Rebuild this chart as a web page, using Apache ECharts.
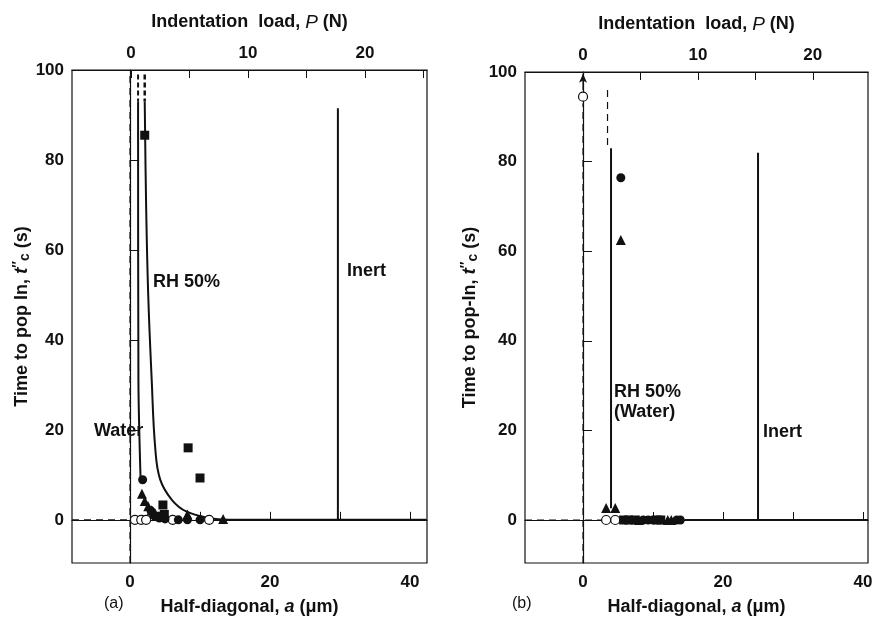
<!DOCTYPE html>
<html>
<head>
<meta charset="utf-8">
<script src="https://cdn.jsdelivr.net/npm/echarts@6/dist/echarts.min.js"></script>
<style>
  html, body { margin: 0; padding: 0; background: #fff; }
  #chart { width: 874px; height: 619px; }
</style>
</head>
<body>
<div id="chart"></div>
<script>
// ---- data (a = half-diagonal in um, t = time to pop-in in s) ----
// panel (a)
var aSquares = [[2.1, 85.5], [8.3, 16], [10, 9.3], [4.7, 3.3], [4.9, 1.2], [3.8, 0.8]];
var aCircles = [[1.8, 8.9], [3.0, 2.0], [3.4, 1.0], [4.2, 0.4], [5.0, 0.2], [6.9, 0], [8.2, 0], [10.0, 0]];
var aTriangles = [[1.7, 5.8], [2.1, 4.2], [2.6, 3.0], [3.1, 2.1], [3.6, 1.4], [8.2, 1.2], [13.3, 0.2]];
var aOpen = [[0.7, 0], [1.6, 0], [2.3, 0], [6.1, 0], [11.3, 0]];
var aWaterTop = [[1.15, 99], [1.15, 93]];
var aWaterCurve = [[1.15, 93], [1.2, 31], [1.5, 9.5]];
var aRhTop = [[2.1, 99], [2.1, 93]];
var aRhCurve = [[2.1, 93], [2.3, 70], [2.6, 50], [3.1, 31], [3.6, 16], [4.3, 9], [6.0, 4.4], [8.1, 1.8], [11.4, 0.4], [14, 0]];
var aBase = [[14, 0], [42.4, 0]];
var aInert = [[29.7, 0], [29.7, 91.5]];

// panel (b)
var bSquares = [[5.8, 0], [6.5, 0], [7.4, 0], [10.6, 0], [11.1, 0]];
var bCircles = [[5.4, 76.4], [8.6, 0], [9.3, 0], [10.0, 0], [13.4, 0], [13.9, 0]];
var bTriangles = [[5.4, 62.5], [3.3, 2.7], [4.6, 2.7], [8.0, 0], [12.1, 0], [12.6, 0]];
var bOpen = [[0, 94.5], [3.3, 0], [4.6, 0]];
var bRhTop = [[3.5, 96], [3.5, 83]];
var bRhLine = [[4.0, 83], [4.0, 2.6]];
var bBase = [[14.5, 0], [40.7, 0]];
var bInert = [[25, 0], [25, 82]];
var bArrow = [[0, 96], [0, 99.6]];

// axis ticks
var aTicks = [0, 10, 20, 30, 40];
var aLabels = [0, 20, 40];
var pTicks = [0, 5, 10, 15, 20, 25];
var pLabels = [0, 10, 20];
var tTicks = [0, 20, 40, 60, 80, 100];

var font = 'Liberation Sans, Arial, sans-serif';
var black = '#111';
var nameSize = 18;
var tickSize = 17;

function bottomAxis(grid, max) {
  return {
    type: 'value', gridIndex: grid, position: 'bottom', min: -8.29, max: max,
    name: '{n|Half-diagonal, }{i|a}{n| (\u03bcm)}', nameLocation: 'middle', nameGap: 35,
    nameTextStyle: { rich: { n: { fontFamily: font, fontWeight: 'bold', fontSize: nameSize, color: black },
                             i: { fontFamily: font, fontStyle: 'italic', fontWeight: 'bold', fontSize: nameSize, color: black } } },
    axisLine: { lineStyle: { color: black, width: 1.2 } },
    axisTick: { inside: true, length: 8, customValues: aTicks, lineStyle: { color: black } },
    axisLabel: { customValues: aLabels, margin: 11, fontFamily: font, fontWeight: 'bold', fontSize: tickSize, color: black },
    splitLine: { show: false }
  };
}
function topAxis(grid, max) {
  return {
    type: 'value', gridIndex: grid, position: 'top', min: -5.04, max: max,
    name: '{n|Indentation  load, }{i|P}{n| (N)}', nameLocation: 'middle', nameGap: 38,
    nameTextStyle: { rich: { n: { fontFamily: font, fontWeight: 'bold', fontSize: nameSize, color: black },
                             i: { fontFamily: font, fontStyle: 'italic', fontSize: nameSize + 1, color: black } } },
    axisLine: { lineStyle: { color: black, width: 1.2 } },
    axisTick: { inside: true, length: 8, customValues: pTicks, lineStyle: { color: black } },
    axisLabel: { customValues: pLabels, margin: 8, fontFamily: font, fontWeight: 'bold', fontSize: tickSize, color: black },
    splitLine: { show: false }
  };
}
function leftAxis(grid, title, gap) {
  return {
    type: 'value', gridIndex: grid, min: -9.6, max: 100,
    name: '{n|' + title + ' }{i|t}{s|\u2033}{c|c}{n| (s)}', nameLocation: 'middle', nameGap: gap,
    nameTextStyle: { rich: { n: { fontFamily: font, fontWeight: 'bold', fontSize: nameSize, color: black },
                             i: { fontFamily: font, fontStyle: 'italic', fontWeight: 'bold', fontSize: nameSize + 1, color: black },
                             s: { fontFamily: font, fontWeight: 'bold', fontSize: 14, color: black, padding: [0, 0, 8, 0] },
                             c: { fontFamily: font, fontWeight: 'bold', fontSize: 14, color: black, padding: [6, 0, 0, 0] } } },
    axisLine: { lineStyle: { color: black, width: 1.2 } },
    axisTick: { inside: true, length: 9, customValues: tTicks, lineStyle: { color: black } },
    axisLabel: { customValues: tTicks, margin: 8, fontFamily: font, fontWeight: 'bold', fontSize: tickSize, color: black },
    splitLine: { show: false }
  };
}

function pts(name, x, y, data, symbol, open) {
  return {
    name: name, type: 'scatter', xAxisIndex: x, yAxisIndex: y, data: data,
    symbol: symbol, symbolSize: symbol === 'triangle' ? 10 : 9,
    itemStyle: open ? { color: '#fff', borderColor: black, borderWidth: 1.2, opacity: 1 } : { color: black, opacity: 1 },
    z: 5
  };
}
function line(x, y, data, opts) {
  var s = {
    type: 'line', xAxisIndex: x, yAxisIndex: y, data: data, symbol: 'none',
    lineStyle: { color: black, width: 2 }, z: 3, animation: false
  };
  return Object.assign(s, opts || {});
}
var dashed = { color: black, width: 1.2, type: [7, 5] };
var zeroA = [[-8.29, 0], [0.4, 0]];
var zeroB = [[-8.29, 0], [3.0, 0]];
var vertA = [[0, -9.6], [0, 100]];
var vertB = [[0, -9.6], [0, 93]];

var txt = 'bold 18px ' + font;
var chart = echarts.init(document.getElementById('chart'));
var option = {
  backgroundColor: '#fff',
  animation: false,
  grid: [
    { left: 72, top: 70, width: 355, height: 493, outerBoundsMode: 'none', containLabel: false,
      show: true, borderColor: black, borderWidth: 1.2 },
    { left: 525, top: 72, width: 343, height: 491, outerBoundsMode: 'none', containLabel: false,
      show: true, borderColor: black, borderWidth: 1.2 }
  ],
  xAxis: [bottomAxis(0, 42.43), topAxis(0, 25.3), bottomAxis(1, 40.71), topAxis(1, 24.8)],
  yAxis: [leftAxis(0, 'Time to pop In,', 36), leftAxis(1, 'Time to pop-In,', 44)],
  graphic: [
    { type: 'text', left: 153, top: 273, style: { text: 'RH 50%', font: txt, fill: black } },
    { type: 'text', left: 94, top: 422, style: { text: 'Water', font: txt, fill: black } },
    { type: 'text', left: 347, top: 262, style: { text: 'Inert', font: txt, fill: black } },
    { type: 'text', left: 614, top: 382, style: { text: 'RH 50%\n(Water)', font: txt, fill: black, lineHeight: 20 } },
    { type: 'text', left: 763, top: 423, style: { text: 'Inert', font: txt, fill: black } },
    { type: 'text', left: 104, top: 596, style: { text: '(a)', font: '16px ' + font, fill: black } },
    { type: 'text', left: 512, top: 596, style: { text: '(b)', font: '16px ' + font, fill: black } }
  ],
  series: [
    // panel (a)
    line(0, 0, vertA, { lineStyle: dashed }),
    line(0, 0, zeroA, { lineStyle: dashed }),
    line(0, 0, aWaterTop, { lineStyle: { color: black, width: 2, type: [5, 3] } }),
    line(0, 0, aRhTop, { lineStyle: { color: black, width: 2.5, type: [5, 3] } }),
    line(0, 0, aWaterCurve, { smooth: 0.3 }),
    line(0, 0, aRhCurve, { smooth: 0.4 }),
    line(0, 0, aBase),
    line(0, 0, aInert),
    pts('open', 0, 0, aOpen, 'circle', true),
    pts('squares', 0, 0, aSquares, 'rect'),
    pts('circles', 0, 0, aCircles, 'circle'),
    pts('triangles', 0, 0, aTriangles, 'triangle'),
    // panel (b)
    line(2, 1, vertB, { lineStyle: dashed }),
    line(2, 1, zeroB, { lineStyle: dashed }),
    line(2, 1, bRhTop, { lineStyle: dashed }),
    line(2, 1, bRhLine),
    line(2, 1, bBase),
    line(2, 1, bInert),
    {
      type: 'line', xAxisIndex: 2, yAxisIndex: 1, z: 4,
      data: [{ value: bArrow[0], symbol: 'none' }, { value: bArrow[1], symbol: 'arrow', symbolSize: [6, 9] }],
      lineStyle: { color: black, width: 1.2 }, itemStyle: { color: black }, showSymbol: true
    },
    pts('open', 2, 1, bOpen, 'circle', true),
    pts('squares', 2, 1, bSquares, 'rect'),
    pts('circles', 2, 1, bCircles, 'circle'),
    pts('triangles', 2, 1, bTriangles, 'triangle')
  ]
};
chart.setOption(option);
</script>
</body>
</html>
